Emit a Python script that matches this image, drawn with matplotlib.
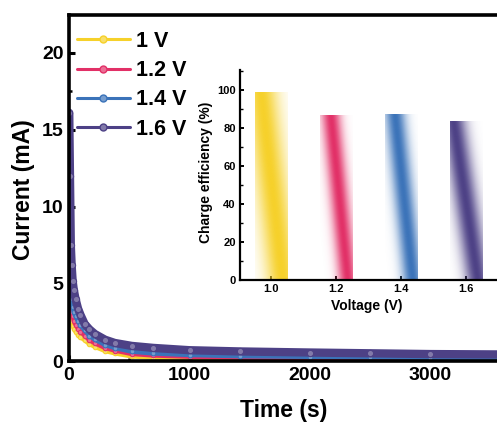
import numpy as np
import matplotlib
matplotlib.use("Agg")
import matplotlib.pyplot as plt
from matplotlib.colors import to_rgb
from matplotlib.ticker import MultipleLocator

plt.rcParams['font.family'] = ['Liberation Sans', 'DejaVu Sans']
plt.rcParams['font.weight'] = 'bold'

# current decay curves
time_s = [2, 8, 15, 22, 30, 40, 55, 75, 95, 130, 170, 215, 300, 380, 520,
          700, 1000, 1420, 2000, 2500, 3000, 3700]
cur_16 = [16.1, 12.0, 7.5, 6.2, 5.2, 4.6, 4.0, 3.4, 3.0, 2.4, 2.05, 1.75,
          1.38, 1.17, 0.98, 0.85, 0.7, 0.62, 0.55, 0.5, 0.45, 0.42]
cur_14 = [12.1, 7.0, 5.0, 4.0, 3.5, 3.2, 2.9, 2.6, 2.35, 2.0, 1.65, 1.4,
          1.05, 0.85, 0.62, 0.5, 0.4, 0.32, 0.28, 0.25, 0.22, 0.2]
cur_12 = [8.5, 5.0, 3.8, 3.2, 2.9, 2.6, 2.35, 2.1, 1.9, 1.65, 1.35, 1.15,
          0.85, 0.68, 0.46, 0.36, 0.28, 0.22, 0.18, 0.16, 0.15, 0.14]
cur_10 = [6.0, 3.8, 3.0, 2.6, 2.3, 2.1, 1.9, 1.7, 1.55, 1.35, 1.1, 0.92,
          0.65, 0.5, 0.3, 0.22, 0.16, 0.12, 0.1, 0.09, 0.08, 0.07]
labels = ['1 V', '1.2 V', '1.4 V', '1.6 V']
colors = ['#F6D12A', '#E23067', '#3B73B9', '#4D4186']

# inset: charge efficiency
voltages = [1.0, 1.2, 1.4, 1.6]
efficiency = [99.1, 86.8, 87.4, 83.7]

W, H = 497, 425
fig = plt.figure(figsize=(W / 100, H / 100), dpi=100)

def px_rect(x0, y_top, x1, y_bot):
    return [x0 / W, 1 - y_bot / H, (x1 - x0) / W, (y_bot - y_top) / H]

ax = fig.add_axes(px_rect(69, 15, 520, 361))
curves = [cur_10, cur_12, cur_14, cur_16]
widths = [3.2, 3.2, 3.4, 6.0]
for cur, c, lw, lab in zip(curves, colors, widths, labels):
    light = tuple(0.7 * np.array(to_rgb(c)) + 0.3)
    ax.plot(time_s, cur, '-', color=c, lw=lw, marker='o',
            ms=min(lw, 4.5), mfc=light, mec=c, mew=0.8, label=lab,
            solid_capstyle='round')

ax.set_xlim(0, 451 / 0.1205)
ax.set_ylim(0, 22.45)
ax.xaxis.set_major_locator(MultipleLocator(1000))
ax.xaxis.set_minor_locator(MultipleLocator(500))
ax.yaxis.set_major_locator(MultipleLocator(5))
ax.yaxis.set_minor_locator(MultipleLocator(2.5))
for s in ax.spines.values():
    s.set_linewidth(2.6)
ax.tick_params(which='major', direction='in', length=4.5, width=2.2,
               labelsize=14, pad=4)
ax.tick_params(which='minor', direction='in', length=2.5, width=1.8)
ax.set_xlabel('Time (s)', fontsize=16.5, fontweight='bold')
ax.set_ylabel('Current (mA)', fontsize=16.5, fontweight='bold')
ax.xaxis.set_label_coords((284 - 69) / 451, -(399 - 361) / 346)
ax.yaxis.set_label_coords(-(69 - 35) / 451, (361 - 190) / 346)

leg = ax.legend(loc='upper left', bbox_to_anchor=(77 / W, 1 - 31 / H),
                bbox_transform=fig.transFigure, frameon=False,
                prop={'size': 15.5, 'weight': 'bold'}, handlelength=2.45,
                handletextpad=0.3, labelspacing=0.38, borderpad=0,
                borderaxespad=0)
for h in leg.get_lines():
    h.set_linewidth(2.2)
    h.set_markersize(5)
    h.set_markeredgewidth(1.0)

# inset bar chart with gradient bars
ins = fig.add_axes(px_rect(240, 70, 530, 280))
ins.set_xlim(0.9046, 0.9046 + 290 / 325)
ins.set_ylim(0, 110.5)
bars = ins.bar(voltages, efficiency, width=0.1, color='none', lw=0)

centers_top = [0.18, 0.33, 0.3, 0.1]
spreads = [0.5, 0.3, 0.32, 0.38]
ny, nx = 200, 60
u = np.linspace(0, 1, nx)[None, :]
v = np.linspace(1, 0, ny)[:, None]
for b, c, ct, sp in zip(bars, colors, centers_top, spreads):
    x0, y0 = b.get_x(), b.get_y()
    bw, bh = b.get_width(), b.get_height()
    cen = ct + (0.85 - ct) * (1 - v)
    inten = np.exp(-((u - cen) / sp) ** 2)
    img = np.zeros((ny, nx, 4))
    img[..., :3] = to_rgb(c)
    img[..., 3] = inten
    im = ins.imshow(img, extent=[x0, x0 + bw, y0, y0 + bh], aspect='auto',
                    interpolation='bilinear', zorder=2)
    im.set_clip_path(b)

ins.set_xticks(voltages)
ins.set_xticklabels(['1.0', '1.2', '1.4', '1.6'])
ins.yaxis.set_major_locator(MultipleLocator(20))
ins.yaxis.set_minor_locator(MultipleLocator(10))
ins.spines['top'].set_visible(False)
ins.spines['right'].set_visible(False)
for s in ['left', 'bottom']:
    ins.spines[s].set_linewidth(1.6)
ins.tick_params(which='major', direction='in', length=3, width=1.4,
                labelsize=8, pad=3)
ins.tick_params(which='minor', direction='in', length=1.8, width=1.0)
ins.set_ylabel('Charge efficiency (%)', fontsize=10, fontweight='bold')
ins.set_xlabel('Voltage (V)', fontsize=10, fontweight='bold')
ins.xaxis.set_label_coords((367 - 240) / 290, -(299 - 280) / 210)
ins.yaxis.set_label_coords(-(240 - 213) / 290, (280 - 172) / 210)

fig.savefig('out.png', dpi=100)
